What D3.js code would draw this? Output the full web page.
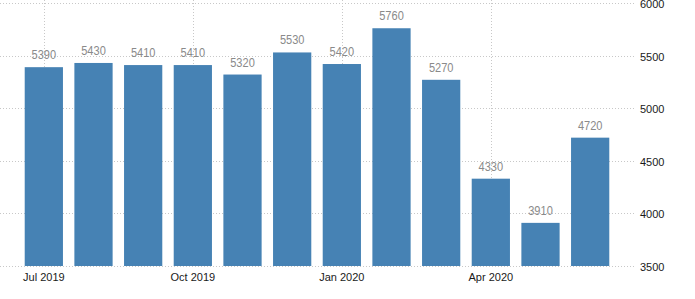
<!DOCTYPE html>
<html>
<head>
<meta charset="utf-8">
<script src="https://cdn.jsdelivr.net/npm/d3@7"></script>
<style>
    body { margin: 0; background: #fff; }
    svg text { font-family: "Liberation Sans", Arial, sans-serif; }
</style>
</head>
<body>
<div id="chart"></div>
<script>
// data
const months = ["Jul 2019", "Aug 2019", "Sep 2019", "Oct 2019", "Nov 2019", "Dec 2019",
                "Jan 2020", "Feb 2020", "Mar 2020", "Apr 2020", "May 2020", "Jun 2020"];
const values = [5390, 5430, 5410, 5410, 5320, 5530, 5420, 5760, 5270, 4330, 3910, 4720];
const xTickLabels = ["Jul 2019", "Oct 2019", "Jan 2020", "Apr 2020"];
const yTicks = [3500, 4000, 4500, 5000, 5500, 6000];

const width = 695, height = 299;

const svg = d3.select("#chart")
    .append("svg")
    .attr("width", width)
    .attr("height", height);

const x = d3.scaleBand()
    .domain(months)
    .range([19, 615])
    .paddingInner(0.23)
    .paddingOuter(0.115);

const y = d3.scaleLinear()
    .domain([3500, 6000])
    .range([266, 3]);

// grid
const grid = svg.append("g")
    .attr("stroke", "#c8c8c8")
    .attr("stroke-width", 1)
    .attr("stroke-dasharray", "1,2")
    .attr("fill", "none");

grid.selectAll(".hgrid")
    .data(yTicks)
    .enter()
    .append("line")
    .attr("x1", 0)
    .attr("x2", 636)
    .attr("y1", d => Math.round(y(d)) + 0.5)
    .attr("y2", d => Math.round(y(d)) + 0.5);

grid.selectAll(".vgrid")
    .data(xTickLabels)
    .enter()
    .append("line")
    .attr("x1", d => Math.round(x(d) + x.bandwidth() / 2) + 0.5)
    .attr("x2", d => Math.round(x(d) + x.bandwidth() / 2) + 0.5)
    .attr("y1", 0)
    .attr("y2", y(3500));

// bars
svg.selectAll(".bar")
    .data(values)
    .enter()
    .append("rect")
    .attr("x", (d, i) => x(months[i]))
    .attr("y", d => y(d))
    .attr("width", x.bandwidth())
    .attr("height", d => y(3500) - y(d))
    .attr("fill", "#4682b4");

// value labels (narrow-ish text like the original)
svg.selectAll(".val")
    .data(values)
    .enter()
    .append("text")
    .attr("transform", (d, i) =>
        `translate(${x(months[i]) + x.bandwidth() / 2},${y(d) - 8}) scale(0.85,1)`)
    .attr("text-anchor", "middle")
    .attr("fill", "#8a8a8a")
    .style("font-size", "13px")
    .text(d => d);

// y axis labels (right)
svg.selectAll(".ylab")
    .data(yTicks)
    .enter()
    .append("text")
    .attr("x", 640)
    .attr("y", d => y(d) + 1)
    .attr("dominant-baseline", "central")
    .attr("fill", "#1a1a1a")
    .style("font-size", "11px")
    .text(d => d);

// x axis labels
svg.selectAll(".xlab")
    .data(xTickLabels)
    .enter()
    .append("text")
    .attr("x", d => x(d) + x.bandwidth() / 2)
    .attr("y", 281)
    .attr("text-anchor", "middle")
    .attr("fill", "#1a1a1a")
    .style("font-size", "11px")
    .text(d => d);
</script>
</body>
</html>
